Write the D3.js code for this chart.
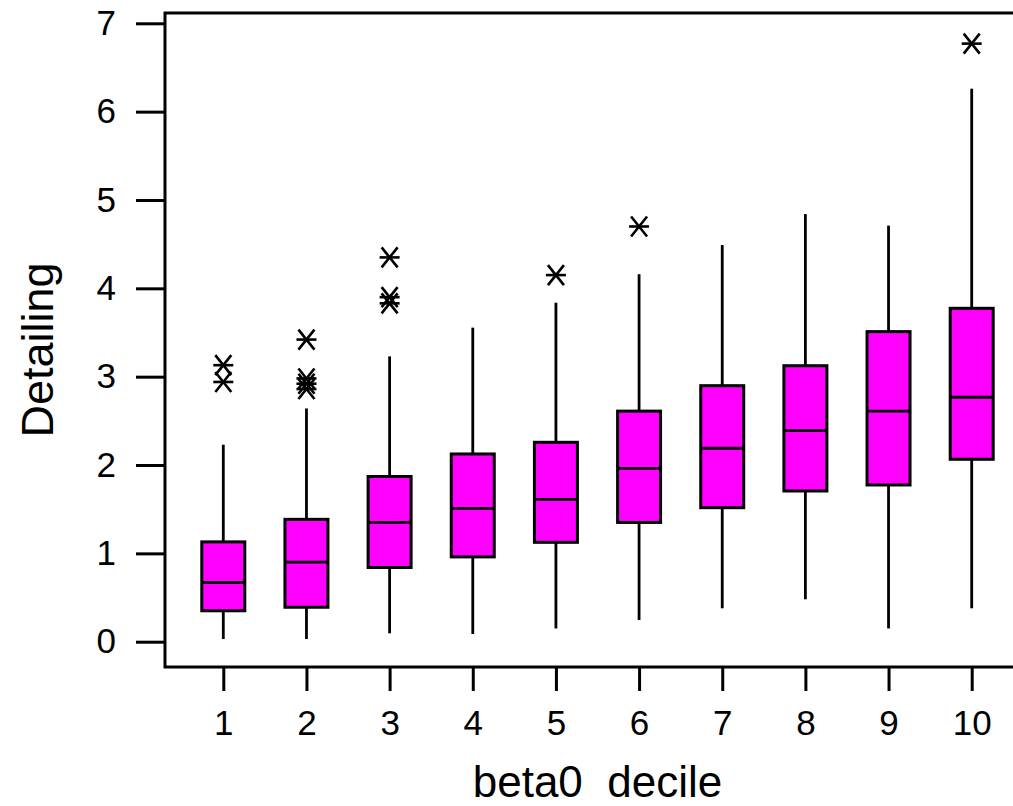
<!DOCTYPE html>
<html>
<head>
<meta charset="utf-8">
<script src="https://cdn.jsdelivr.net/npm/d3@7"></script>
<style>
  html, body { margin: 0; padding: 0; background: #fff; }
  svg { display: block; font-family: "Liberation Sans", Arial, sans-serif; }
</style>
</head>
<body>
<svg id="chart" width="1013" height="806"></svg>
<script>
// Deciles of beta0 and the box-plot summaries of Detailing for each decile
const deciles = [1, 2, 3, 4, 5, 6, 7, 8, 9, 10];
const q1      = [0.35, 0.39, 0.84, 0.96, 1.125, 1.35, 1.517, 1.706, 1.774, 2.065];
const median  = [0.67, 0.90, 1.35, 1.51, 1.612, 1.963, 2.19, 2.389, 2.61, 2.767];
const q3      = [1.13, 1.385, 1.87, 2.125, 2.257, 2.61, 2.898, 3.124, 3.51, 3.774];
const whiskerLow  = [0.03, 0.03, 0.095, 0.087, 0.15, 0.245, 0.378, 0.48, 0.15, 0.378];
const whiskerHigh = [2.23, 2.64, 3.23, 3.555, 3.837, 4.16, 4.49, 4.84, 4.71, 6.26];
// Outlying observations: [decile, value]
const outliers = [
  [1, 3.13], [1, 2.94],
  [2, 3.42], [2, 2.98], [2, 2.92], [2, 2.86],
  [3, 4.35], [3, 3.90], [3, 3.83],
  [5, 4.15],
  [6, 4.70],
  [10, 6.77]
];
const yTicks = [0, 1, 2, 3, 4, 5, 6, 7];

const svg = d3.select("#chart");

const frame = { left: 165, top: 13, right: 1025, bottom: 667 };

const x = d3.scaleLinear().domain([1, 10]).range([223.3, 971.7]);
const y = d3.scaleLinear().domain([0, 7]).range([641.7, 23.3]);

const boxW = 43;
const fill = "#ff00ff";
const lw = 3;

// Plot frame
svg.append("rect")
  .attr("x", frame.left).attr("y", frame.top)
  .attr("width", frame.right - frame.left)
  .attr("height", frame.bottom - frame.top)
  .attr("fill", "none").attr("stroke", "#000").attr("stroke-width", lw);

// Y axis (outside the frame)
const yAxis = d3.axisLeft(y).tickValues(yTicks).tickSize(29).tickPadding(20)
  .tickFormat(d3.format("d"));
const gy = svg.append("g").attr("transform", `translate(${frame.left},0)`).call(yAxis);
gy.select(".domain").remove();
gy.selectAll(".tick line").attr("stroke", "#000").attr("stroke-width", lw);
gy.selectAll(".tick text").attr("font-size", 35).attr("fill", "#000")
  .attr("font-family", "Liberation Sans, Arial, sans-serif");

// X axis (below the frame)
const xAxis = d3.axisBottom(x).tickValues(deciles).tickSize(24).tickPadding(19)
  .tickFormat(d3.format("d"));
const gx = svg.append("g").attr("transform", `translate(0,${frame.bottom})`).call(xAxis);
gx.select(".domain").remove();
gx.selectAll(".tick line").attr("stroke", "#000").attr("stroke-width", lw);
gx.selectAll(".tick text").attr("font-size", 35).attr("fill", "#000")
  .attr("font-family", "Liberation Sans, Arial, sans-serif");

// Box plots
const boxes = deciles.map((d, i) => ({
  d, q1: q1[i], med: median[i], q3: q3[i], lo: whiskerLow[i], hi: whiskerHigh[i]
}));

const g = svg.append("g");
const box = g.selectAll("g.box").data(boxes).join("g").attr("class", "box");

box.append("line")
  .attr("x1", b => x(b.d)).attr("x2", b => x(b.d))
  .attr("y1", b => y(b.q3)).attr("y2", b => y(b.hi))
  .attr("stroke", "#000").attr("stroke-width", 2.8);
box.append("line")
  .attr("x1", b => x(b.d)).attr("x2", b => x(b.d))
  .attr("y1", b => y(b.q1)).attr("y2", b => y(b.lo))
  .attr("stroke", "#000").attr("stroke-width", 2.8);
box.append("rect")
  .attr("x", b => x(b.d) - boxW / 2).attr("width", boxW)
  .attr("y", b => y(b.q3)).attr("height", b => y(b.q1) - y(b.q3))
  .attr("fill", fill).attr("stroke", "#000").attr("stroke-width", lw);
box.append("line")
  .attr("x1", b => x(b.d) - boxW / 2).attr("x2", b => x(b.d) + boxW / 2)
  .attr("y1", b => y(b.med)).attr("y2", b => y(b.med))
  .attr("stroke", "#000").attr("stroke-width", 2.8);

// Outlier asterisks
const star = g.selectAll("g.star").data(outliers).join("g").attr("class", "star")
  .attr("transform", o => `translate(${x(o[0])},${y(o[1])})`)
  .attr("stroke", "#000").attr("stroke-width", 2.6);
star.append("line").attr("x1", -10).attr("x2", 10).attr("y1", 0).attr("y2", 0);
star.append("line").attr("x1", -8).attr("x2", 8).attr("y1", -10).attr("y2", 10);
star.append("line").attr("x1", -8).attr("x2", 8).attr("y1", 10).attr("y2", -10);

// Axis titles
svg.append("text")
  .attr("x", x(5.5)).attr("y", 797)
  .attr("text-anchor", "middle").attr("font-size", 44).attr("fill", "#000")
  .attr("xml:space", "preserve").style("white-space", "pre")
  .text("beta0  decile");

svg.append("text")
  .attr("transform", "translate(53,350) rotate(-90)")
  .attr("text-anchor", "middle").attr("font-size", 45).attr("fill", "#000")
  .text("Detailing");
</script>
</body>
</html>
